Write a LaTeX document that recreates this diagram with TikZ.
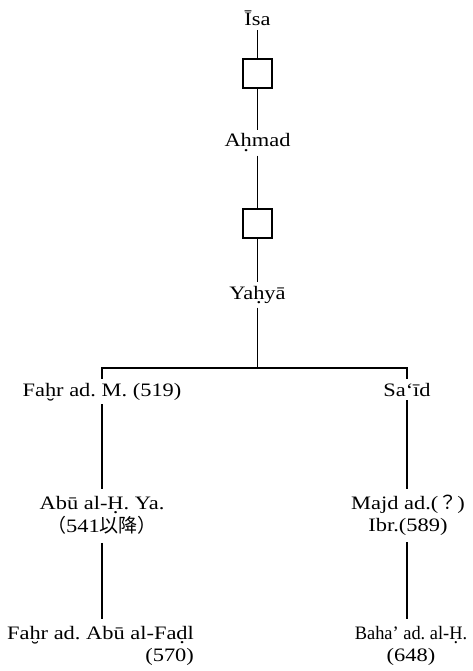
\documentclass[tikz,border=0pt]{standalone}
\usepackage{fontspec}
\usepackage{graphicx}
\setmainfont{Liberation Serif}[FakeStretch=1.18]
\newfontfamily\jpfont{Noto Sans CJK JP}
% letters with a dot or a breve set below them
\newcommand\dotbelow[1]{\oalign{#1\crcr\hidewidth.\hidewidth}}
\newcommand\brevebelow[1]{\raisebox{0pt}[\height][0pt]{\oalign{#1\crcr\hidewidth\char"02D8\hidewidth}}}
\tikzset{
  person/.style={font=\fontsize{19}{22.5}\selectfont\frenchspacing, inner sep=4pt, anchor=base},
  gapbox/.style={draw, line width=1.2pt, minimum width=29pt, minimum height=29pt, inner sep=0pt},
  link/.style={line width=1.1pt}
}
\begin{document}
\begin{tikzpicture}[x=1pt, y=-1pt]
\useasboundingbox (0,0) rectangle (473,671);

% main line of descent
\node[person] (isa)   at (257.5,26)  {Īsa};
\node[gapbox] (box1)  at (257.5,73.5) {};
\node[person] (ahmad) at (257.5,147) {A\dotbelow{h}mad};
\node[gapbox] (box2)  at (257.5,223.5) {};
\node[person] (yahya) at (257.5,299) {Ya\dotbelow{h}yā};
\coordinate (split) at (257.5,368);

% two branches
\node[person] (fahrM) at (102,396) {Fa\brevebelow{h}r ad. M. (519)};
\node[person] (said)  at (407,396) {Sa‘īd};

\node[person] (abu)  at (102,509) {\begin{tabular}[t]{@{}c@{}}Abū al-\dotbelow{H}. Ya.\\{\jpfont （}541{\jpfont 以降）}\end{tabular}};
\node[person] (majd) at (408,509) {\begin{tabular}[t]{@{}c@{}}Majd ad.({\jpfont ？})\\Ibr.(589)\end{tabular}};

\node[person] (fahrA) at (100.5,639) {\begin{tabular}[t]{@{}r@{}}Fa\brevebelow{h}r ad. Abū al-Fa\dotbelow{d}l\\(570)\end{tabular}};
\node[person] (baha)  at (411,639) {\begin{tabular}[t]{@{}c@{}}\scalebox{0.82}[1]{Baha’ ad. al-\dotbelow{H}.}\\(648)\end{tabular}};

% connectors
\draw[link] (isa) -- (box1);
\draw[link] (box1) -- (ahmad);
\draw[link] (ahmad) -- (box2);
\draw[link] (box2) -- (yahya);
\draw[link] (yahya) -- (split);
\draw[link] (fahrM.north) |- (split) -| (said.north);
\draw[link] (fahrM.south) -- (fahrM.south |- abu.north);
\draw[link] (said.south) -- (said.south |- majd.north);
\draw[link] (fahrM.south |- abu.south) -- (fahrM.south |- fahrA.north);
\draw[link] (said.south |- majd.south) -- (said.south |- baha.north);
\end{tikzpicture}
\end{document}
